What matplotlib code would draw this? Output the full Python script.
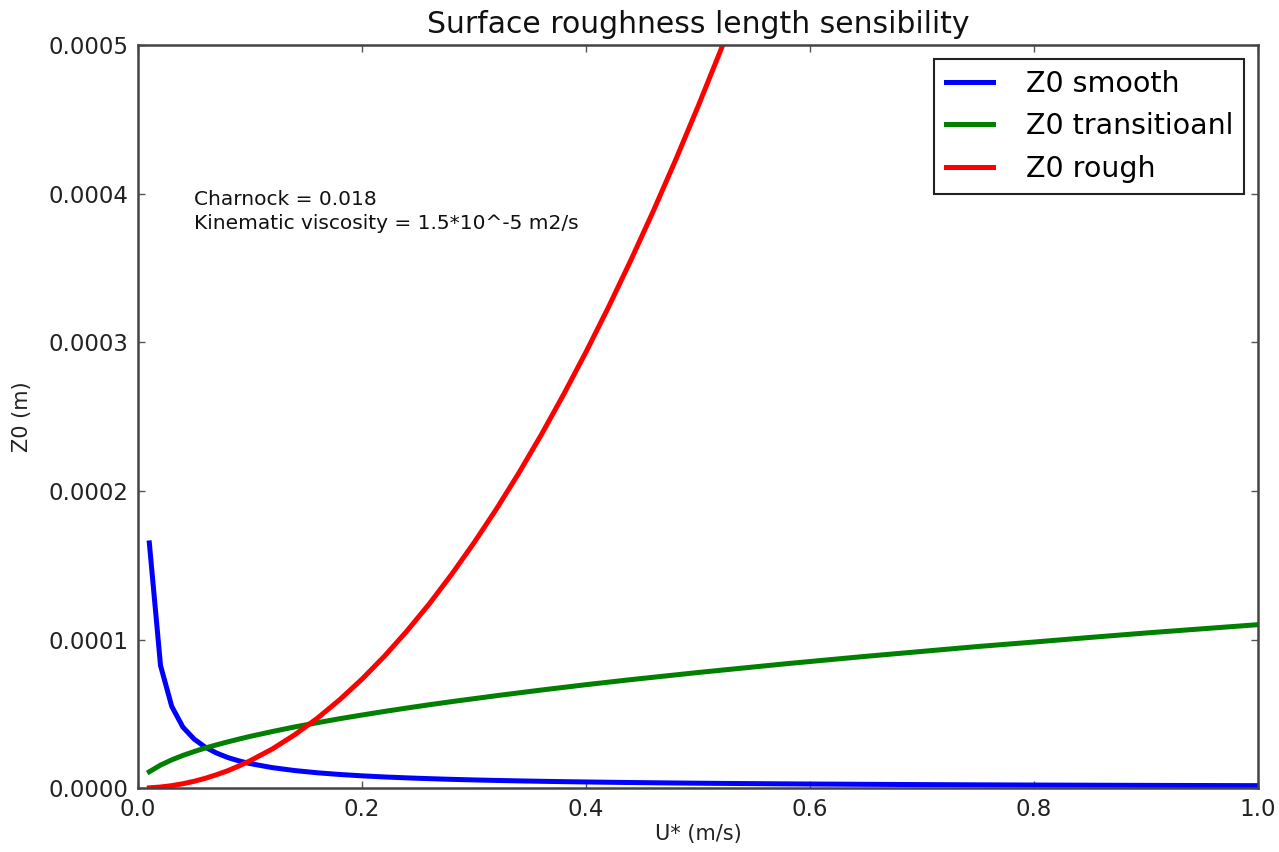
import matplotlib
matplotlib.use("Agg")
import matplotlib.pyplot as plt

u_star = [0.01, 0.02, 0.03, 0.04, 0.05, 0.06, 0.07, 0.08, 0.09, 0.10,
          0.12, 0.14, 0.16, 0.18, 0.20, 0.22, 0.24, 0.26, 0.28, 0.30,
          0.32, 0.34, 0.36, 0.38, 0.40, 0.42, 0.44, 0.46, 0.48, 0.50,
          0.52, 0.54, 0.56, 0.58, 0.60, 0.65, 0.70, 0.75, 0.80, 0.85,
          0.90, 0.95, 1.00]

z0_smooth = [1.65e-4, 8.25e-5, 5.5e-5, 4.1e-5, 3.3e-5, 2.75e-5, 2.36e-5, 2.06e-5, 1.83e-5, 1.65e-5,
             1.375e-5, 1.179e-5, 1.031e-5, 9.17e-6, 8.25e-6, 7.5e-6, 6.88e-6, 6.35e-6, 5.89e-6, 5.5e-6,
             5.16e-6, 4.85e-6, 4.58e-6, 4.34e-6, 4.13e-6, 3.93e-6, 3.75e-6, 3.59e-6, 3.44e-6, 3.3e-6,
             3.17e-6, 3.06e-6, 2.95e-6, 2.84e-6, 2.75e-6, 2.54e-6, 2.36e-6, 2.2e-6, 2.06e-6, 1.94e-6,
             1.83e-6, 1.74e-6, 1.65e-6]

z0_transitional = [1.1e-5, 1.55e-5, 1.9e-5, 2.2e-5, 2.46e-5, 2.7e-5, 2.91e-5, 3.11e-5, 3.3e-5, 3.48e-5,
                   3.81e-5, 4.12e-5, 4.4e-5, 4.67e-5, 4.92e-5, 5.16e-5, 5.39e-5, 5.61e-5, 5.82e-5, 6.02e-5,
                   6.22e-5, 6.41e-5, 6.6e-5, 6.78e-5, 6.96e-5, 7.13e-5, 7.30e-5, 7.46e-5, 7.62e-5, 7.78e-5,
                   7.93e-5, 8.08e-5, 8.23e-5, 8.38e-5, 8.52e-5, 8.87e-5, 9.2e-5, 9.53e-5, 9.83e-5, 1.014e-4,
                   1.044e-4, 1.072e-4, 1.1e-4]

z0_rough = [1.8e-7, 7.3e-7, 1.65e-6, 2.94e-6, 4.59e-6, 6.6e-6, 9.0e-6, 1.17e-5, 1.49e-5, 1.84e-5,
            2.64e-5, 3.6e-5, 4.7e-5, 5.95e-5, 7.34e-5, 8.88e-5, 1.057e-4, 1.24e-4, 1.439e-4, 1.652e-4,
            1.879e-4, 2.121e-4, 2.378e-4, 2.65e-4, 2.936e-4, 3.237e-4, 3.553e-4, 3.883e-4, 4.228e-4, 4.588e-4,
            4.962e-4, 5.351e-4, 5.755e-4, 6.173e-4, 6.606e-4, 7.75e-4, 8.99e-4, 1.03e-3, 1.17e-3, 1.33e-3,
            1.49e-3, 1.66e-3, 1.84e-3]

labels = ["Z0 smooth", "Z0 transitioanl", "Z0 rough"]
colors = ["#0000ff", "#007f00", "#ff0000"]

plt.rcParams['font.family'] = ['DejaVu Sans']
fig = plt.figure(figsize=(12.79, 8.52), dpi=100)
ax = fig.add_axes([0.108, 0.075, 0.8756, 0.872])

for ys, lab, c in zip([z0_smooth, z0_transitional, z0_rough], labels, colors):
    ax.plot(u_star, ys, color=c, lw=3.6, label=lab)

ax.set_xlim(0, 1.0)
ax.set_ylim(0, 0.0005)
ax.set_xticks([0.0, 0.2, 0.4, 0.6, 0.8, 1.0])
ax.set_xticklabels(["0.0", "0.2", "0.4", "0.6", "0.8", "1.0"])
ax.set_yticks([0.0, 0.0001, 0.0002, 0.0003, 0.0004, 0.0005])
ax.set_yticklabels(["0.0000", "0.0001", "0.0002", "0.0003", "0.0004", "0.0005"])
ax.tick_params(direction='in', top=True, right=True, length=5, width=1,
               labelsize=16.5, labelcolor='#222222', color='#555555', pad=7)
for s in ax.spines.values():
    s.set_linewidth(1.8)
    s.set_color('#444444')

ax.set_title("Surface roughness length sensibility", fontsize=21.5, pad=9, color='#111111')
ax.set_xlabel("U* (m/s)", fontsize=15, color='#222222', labelpad=2)
ax.set_ylabel("Z0 (m)", fontsize=15, color='#222222', labelpad=12)

ax.text(0.05, 0.000388, "Charnock = 0.018\nKinematic viscosity = 1.5*10^-5 m2/s",
        fontsize=14.5, va='center', ha='left', color='#111111', linespacing=1.35)

leg = ax.legend(loc='upper right', prop={'size': 20.5}, fancybox=False, framealpha=1,
                edgecolor='#222222', handlelength=1.65, borderaxespad=0.48,
                borderpad=0.4, labelspacing=0.5, handletextpad=1.15)
leg.get_frame().set_linewidth(1.5)

fig.savefig("out.png", dpi=100)
